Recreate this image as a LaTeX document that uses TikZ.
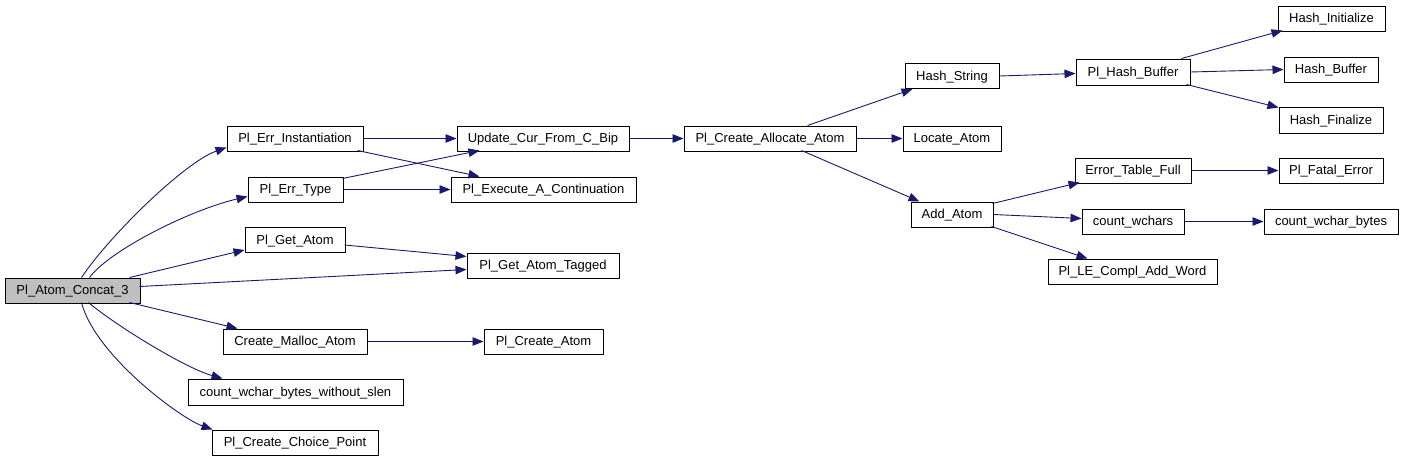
\documentclass[tikz,border=0pt]{standalone}
\usepackage{fontspec}
\setmainfont{Liberation Sans}
\usetikzlibrary{arrows.meta,calc}
\definecolor{edgeblue}{RGB}{25,25,112}
\definecolor{rootgray}{RGB}{191,191,191}
\begin{document}
\begin{tikzpicture}[x=1pt,y=-1pt,
  box/.style={draw=black,line width=1pt,fill=white,inner sep=0pt,minimum height=25pt,
    text height=9.4pt,text depth=1.4pt,
    font=\fontsize{13}{15}\selectfont,text=black},
  rootbox/.style={box,fill=rootgray},
  edge/.style={draw=edgeblue,line width=0.9pt,-{Triangle[length=11pt,width=8.5pt]}}]
\useasboundingbox (0,0) rectangle (1409,461);
% nodes
\node[rootbox,minimum width=135pt] (root) at (72.5,290.5) {Pl\_Atom\_Concat\_3};
\node[box,minimum width=136pt] (errinst) at (295,138.5) {Pl\_Err\_Instantiation};
\node[box,minimum width=95pt] (errtype) at (295.5,189.5) {Pl\_Err\_Type};
\node[box,minimum width=100pt] (getatom) at (295,240) {Pl\_Get\_Atom};
\node[box,minimum width=144pt] (malloc) at (295,341.5) {Create\_Malloc\_Atom};
\node[box,minimum width=215pt,minimum height=26pt] (cwbws) at (295.5,392) {count\_wchar\_bytes\_without\_slen};
\node[box,minimum width=166pt] (choice) at (295,442.5) {Pl\_Create\_Choice\_Point};
\node[box,minimum width=172pt] (update) at (543,138.5) {Update\_Cur\_From\_C\_Bip};
\node[box,minimum width=185pt] (execute) at (543.5,189.5) {Pl\_Execute\_A\_Continuation};
\node[box,minimum width=152pt] (tagged) at (543,265.5) {Pl\_Get\_Atom\_Tagged};
\node[box,minimum width=119pt] (createatom) at (543.5,341.5) {Pl\_Create\_Atom};
\node[box,minimum width=172pt] (pca) at (770,138.5) {Pl\_Create\_Allocate\_Atom};
\node[box,minimum width=94pt] (hashstring) at (952,76) {Hash\_String};
\node[box,minimum width=98pt] (locate) at (952,138.5) {Locate\_Atom};
\node[box,minimum width=82pt] (addatom) at (952,214.5) {Add\_Atom};
\node[box,minimum width=114pt,minimum height=26pt] (hashbuf) at (1133,72) {Pl\_Hash\_Buffer};
\node[box,minimum width=107pt] (hashinit) at (1331.5,18.5) {Hash\_Initialize};
\node[box,minimum width=94pt] (hashbuffer) at (1331,69.5) {Hash\_Buffer};
\node[box,minimum width=104pt,minimum height=26pt] (hashfin) at (1331,120) {Hash\_Finalize};
\node[box,minimum width=116pt] (errtable) at (1133,170.5) {Error\_Table\_Full};
\node[box,minimum width=104pt] (fatal) at (1331,170.5) {Pl\_Fatal\_Error};
\node[box,minimum width=102pt] (cwchars) at (1133,221.5) {count\_wchars};
\node[box,minimum width=134pt] (cwbytes) at (1331,221.5) {count\_wchar\_bytes};
\node[box,minimum width=169pt] (lecompl) at (1132.5,271.5) {Pl\_LE\_Compl\_Add\_Word};
% edges from root
\draw[edge] ($(root.north west)+(77,0)$) .. controls (110,235) and (185,162) .. ($(errinst.north west)+(0,22)$);
\draw[edge] ($(root.north west)+(85,0)$) .. controls (110,250) and (190,210) .. ($(errtype.north west)+(0,20)$);
\draw[edge] ($(root.north west)+(125,0)$) -- ($(getatom.north west)+(0,23)$);
\draw[edge] ($(root.north west)+(135,9)$) -- ($(tagged.north west)+(0,17)$);
\draw[edge] ($(root.north west)+(125,25)$) -- ($(malloc.north west)+(15,0)$);
\draw[edge] ($(root.north west)+(84,25)$) .. controls (115,325) and (185,368) .. ($(cwbws.north west)+(35,0)$);
\draw[edge] ($(root.north west)+(77,25)$) .. controls (95,355) and (180,418) .. ($(choice.north west)+(1,0)$);
% second level
\draw[edge] (errinst.east) -- (update.west);
\draw[edge] ($(errinst.north west)+(131,25)$) -- ($(execute.north west)+(29,0)$);
\draw[edge] ($(errtype.north west)+(95,2)$) -- ($(update.north west)+(23,25)$);
\draw[edge] (errtype.east) -- (execute.west);
\draw[edge] ($(getatom.north west)+(100,18)$) -- ($(tagged.north west)+(0,4)$);
\draw[edge] (malloc.east) -- (createatom.west);
\draw[edge] (update.east) -- (pca.west);
% pca
\draw[edge] ($(pca.north west)+(124,0)$) -- ($(hashstring.north west)+(8,26)$);
\draw[edge] (pca.east) -- (locate.west);
\draw[edge] ($(pca.north west)+(118,25)$) -- ($(addatom.north west)+(9,0)$);
% hash
\draw[edge] (hashstring.east) -- ($(hashbuf.north west)+(0,15)$);
\draw[edge] ($(hashbuf.north west)+(106,0)$) -- ($(hashinit.north west)+(5,25)$);
\draw[edge] (hashbuf.east) -- (hashbuffer.west);
\draw[edge] ($(hashbuf.north west)+(111,26)$) -- ($(hashfin.north west)+(0,1)$);
% add atom
\draw[edge] ($(addatom.north west)+(82,2)$) -- ($(errtable.north west)+(5,25)$);
\draw[edge] (addatom.east) -- ($(cwchars.north west)+(0,10)$);
\draw[edge] ($(addatom.north west)+(81,25)$) -- ($(lecompl.north west)+(40,0)$);
\draw[edge] (errtable.east) -- (fatal.west);
\draw[edge] (cwchars.east) -- (cwbytes.west);
\end{tikzpicture}
\end{document}
